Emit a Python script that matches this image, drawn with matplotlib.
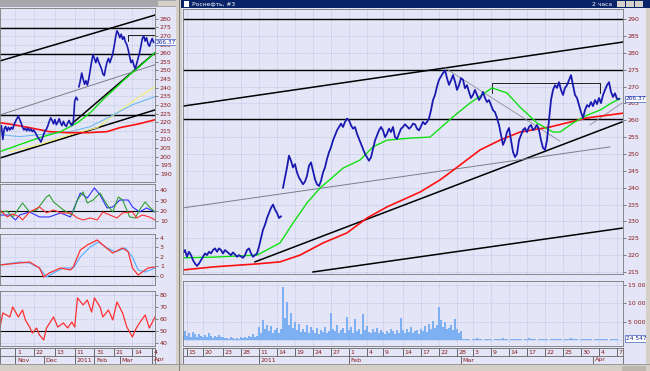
import numpy as np
import matplotlib.pyplot as plt
from matplotlib.patches import Rectangle

W, H = 650, 371
BG = '#e4e6f7'
GRID = '#a9b1dc'
TXT = '#8b1c1c'
FRAME = '#d4d0c8'

##==============================================================================
# data: right window (2h bars, index = bar number)

close = [220.5, 221.5, 219.5, 221.0, 220.0, 218.5, 217.5, 216.8, 217.5, 218.5,
         219.5, 220.5, 220.0, 221.0, 220.5, 221.5, 222.0, 221.0, 222.0, 221.5,
         220.5, 221.5, 221.0, 220.5, 220.0, 220.8, 220.2, 219.5, 220.0, 219.6,
         219.2, 220.0, 221.5, 222.0, 220.5, 219.5, 220.0, 220.5,
         222.5, 225.0, 227.5, 229.0, 231.0, 232.5, 234.0, 235.0, 233.5, 232.5, 231.0, 231.5,
         240.0, 243.0, 246.0, 249.5, 248.0, 246.0, 247.0, 244.5, 243.0, 242.0,
         241.0, 241.8, 243.5, 246.5, 247.5, 245.0, 242.5, 241.0, 240.5, 242.0,
         244.5, 246.0, 248.5, 250.5, 252.0, 254.0, 255.5, 257.0, 258.0, 259.0,
         258.0, 259.5, 260.5, 260.0, 258.5, 257.5, 258.0, 256.0, 254.5, 253.0,
         251.5, 250.0, 249.0, 248.0, 249.0, 251.5, 254.0, 255.5, 257.0, 258.0,
         257.0, 255.0, 256.0, 257.5, 256.5, 258.0, 255.0, 254.5, 256.0, 257.5,
         258.0, 258.8, 258.2, 257.5, 258.0, 259.0, 258.8, 257.5, 257.0, 258.2,
         259.5, 258.8, 259.5, 260.5, 263.0, 266.0, 267.5, 270.0, 272.0, 273.0,
         274.0, 274.8, 272.5, 270.5, 271.8, 273.4, 271.5, 269.0, 270.4, 272.5,
         272.0, 269.5, 270.4, 268.4, 266.6, 267.5, 269.0, 267.5, 266.0, 266.9,
         268.4, 266.6, 265.4, 266.0, 264.5, 263.0, 262.4, 260.7, 258.6, 255.6,
         252.7, 254.1, 256.5, 257.7, 254.1, 250.6, 249.1, 250.0, 254.1, 255.6,
         257.1, 257.7, 256.5, 258.0, 258.6, 257.1, 257.7, 258.6, 257.1, 254.1,
         251.8, 251.2, 254.1, 260.0, 266.0, 269.0, 270.4, 269.6, 271.3, 269.0,
         267.5, 269.6, 270.4, 271.9, 273.4, 270.4, 267.5, 266.6, 264.5, 262.4,
         260.7, 263.0, 264.5, 264.0, 265.4, 264.2, 266.0, 264.8, 266.6, 265.1,
         267.5, 269.0, 270.4, 271.3, 268.4, 266.9, 268.0, 266.3, 266.37]
gap_at = 50  # price gap after the new-year holidays

# volume, millions
volume = [1.2, 2.5, 1.0, 1.8, 0.8, 2.2, 1.5, 0.9, 1.6, 1.1, 0.7, 1.3, 0.9, 1.8, 1.2, 0.6,
          1.0, 0.8, 1.4, 0.7, 0.9, 0.5, 0.6, 0.4, 0.8, 0.5, 0.3, 0.6, 0.4, 0.7, 0.5, 0.9,
          0.6, 1.2, 0.8, 1.5, 0.9, 1.1,
          3.5, 2.0, 5.5, 3.0, 4.2, 2.5, 3.8, 1.8, 2.6, 3.2, 2.0, 3.0, 14.5, 6.0, 10.5, 4.0,
          7.5, 3.2, 5.0, 2.8, 4.5, 2.2,
          3.0, 2.2, 4.0, 1.8, 3.5, 2.6, 2.0, 3.2, 1.5, 2.8, 2.2, 3.6, 1.9, 2.5, 7.5, 3.0,
          2.4, 4.2, 1.8, 2.6, 3.4, 2.0, 6.2, 2.8, 3.5, 1.9, 5.6, 2.4, 3.0, 1.7, 7.0, 2.6,
          3.8, 2.2, 1.9, 2.9, 2.3, 3.3, 1.8, 2.7, 2.1, 1.6, 2.5, 1.9, 3.1, 2.4, 1.7, 2.8,
          2.0, 6.0, 2.6, 1.8, 2.9, 2.2, 3.6, 1.9, 2.4, 2.8, 1.7, 3.0,
          2.5, 3.8, 2.2, 4.5, 3.0, 5.2, 3.4, 4.0, 9.0, 5.5, 3.6, 4.8, 2.9, 3.3, 4.2, 2.6,
          5.8, 3.1, 2.0, 2.4,
          0.3, 0.2, 0.4, 0.2, 0.1, 0.3, 0.2, 0.5, 0.2, 0.3, 0.1, 0.2, 0.3, 0.2, 0.4, 0.1,
          0.2, 0.3, 0.2, 0.2, 0.6, 0.3, 0.2, 0.1, 0.3, 0.2, 0.4, 0.2, 0.3, 0.2, 0.1, 0.2,
          0.3, 0.5, 0.2, 0.2, 0.3, 0.1, 0.2, 0.4, 0.2, 0.3, 0.2, 0.1, 0.3, 0.2, 0.2, 0.4,
          0.3, 0.2, 0.1, 0.2, 0.3, 0.2, 0.5, 0.2, 0.3, 0.2, 0.1, 0.2, 0.3, 0.2, 0.4, 0.2,
          0.3, 0.1, 0.2, 0.3, 0.2, 0.4, 0.2, 0.3, 0.2, 0.1, 0.3, 0.2, 0.4, 0.3, 0.1]

ma_fast_x = [0, 15, 37, 48.5, 55, 62, 68.5, 75, 80, 88.5, 95, 102, 113.5, 123.5, 135,
             143.5, 154.5, 162, 168.5, 177, 185, 188.5, 195, 202, 208.5, 215, 218.5]
ma_fast = [219.2, 219.4, 220.0, 223.6, 229.5, 235.5, 239.9, 243.2, 245.8, 248.2, 252.1,
           254.1, 254.7, 255.0, 261.0, 265.1, 269.6, 268.1, 263.9, 259.2, 256.5, 256.5,
           259.2, 261.5, 263.0, 265.4, 266.3]
ma_slow_x = [0, 15, 37, 48.5, 58.5, 70, 82, 92, 102, 118.5, 128.5, 138.5, 148.5, 158.5,
             168.5, 183.5, 202, 220]
ma_slow = [215.6, 216.5, 217.4, 218.0, 220.0, 223.6, 226.6, 231.0, 234.3, 238.7, 242.3,
           246.7, 251.2, 254.1, 256.5, 258.0, 260.7, 262.1]

levels = [290.0, 274.9, 260.4]
# drawn trend lines: (x0, y0, x1, y1, colour, width)
trend_lines = [(0, 264.2, 220, 283.2, 'black', 1.1),
               (65, 215.0, 219.5, 228.0, 'black', 1.1),
               (36, 218.0, 219.5, 259.5, 'black', 1.1),
               (0, 234.0, 213.5, 252.1, '#7d7d8a', 0.7),
               (131, 275.5, 188.5, 253.8, '#8d8d95', 0.6),
               (203.5, 258.6, 219.5, 265.1, '#8d8d95', 0.6)]
range_box = (154.5, 208.5, 271.0, 268.0)

day_pos = [2, 10, 20, 29, 38, 47, 56, 65, 74, 83, 92, 100, 110, 119, 128, 137, 145,
           154, 163, 172, 181, 190, 199, 208, 217]
day_lab = ['15', '20', '23', '28', '11', '14', '19', '24', '27', '1', '4', '9', '14',
           '17', '22', '28', '3', '9', '14', '17', '22', '25', '30', '4', '7']
mon_pos = [38, 83, 139, 205]
mon_lab = ['2011', 'Feb', 'Mar', 'Apr']

##==============================================================================
# data: left window (daily bars)

l_close = [214, 218, 210, 216, 217.5, 215, 217, 215.5, 217, 216, 218.5, 220.5, 222,
           223.5, 221.5, 219.5, 217, 215.5, 216.5, 215, 216.5, 215, 216, 214.5, 215.5,
           214, 212.5, 211, 210, 208.5, 210.5, 213, 215, 216, 218, 220.5, 222.5, 221,
           219, 221.5, 218.5, 220, 222, 219.5, 218, 220.5, 218.5, 217.5, 219.5, 221,
           219, 218, 219.5, 232, 234.5, 233,
           240.5, 244, 248.5, 245, 242, 244, 241.5, 245, 250, 255, 259, 257, 254.5,
           257.5, 255, 253, 251, 248, 247, 251.5, 255, 257, 254.5, 257, 259.5, 264,
           269, 273, 271.5, 269, 271, 268, 269.5, 266.5, 265, 262, 258, 254.5, 256,
           253, 251, 254, 257, 260, 264, 268.5, 270, 267, 269, 265.5, 264, 266.5,
           268.5, 266.37]
l_gap_at = 56

l_green_x = [0, 14, 28, 43, 55, 64, 73, 83, 92, 99, 110]
l_green = [202.9, 207, 211, 214.5, 219.7, 225.4, 233, 240.6, 247.5, 252.2, 260.3]
l_red_x = [0, 9, 21, 35, 48, 62, 76, 85, 99, 110]
l_red = [219.7, 218.6, 216.8, 214.5, 213.9, 213.9, 214.5, 216.8, 219.1, 221.4]
l_blue_x = [0, 14, 28, 50, 64, 78, 94, 110]
l_blue = [212.8, 211.6, 212.8, 214.5, 217.4, 223.2, 230.1, 234.8]
l_yellow_x = [7, 28, 50, 69, 83, 99, 110]
l_yellow = [202.9, 207, 212.8, 216.8, 225.5, 234.8, 240.6]

l_levels = [274.5, 259.8, 224.2]
l_lines = [(0, 255.5, 110, 282.1, 'black', 1.1),
           (0, 199.2, 110, 227.1, 'black', 1.1),
           (51, 219.1, 110, 260.3, 'black', 1.1),
           (0, 224.2, 110, 253.3, '#7d7d8a', 0.7)]
l_box = (91, 110, 270.6, 267.0)

# directional movement (+DI blue, ADX green, -DI red)
dmi_b_x = [0, 7, 11, 14, 21, 28, 35, 43, 50, 52, 57, 62, 67, 71, 76, 80, 85, 91, 94, 99, 104, 110]
dmi_b = [16.1, 16.1, 11.3, 16.1, 19, 14.2, 14.2, 18.1, 14.2, 21, 37.4, 32.6, 42.3, 35.5,
         22.9, 23.9, 30.6, 30.6, 23.9, 19, 22.9, 19]
dmi_g_x = [0, 5, 9, 16, 21, 26, 33, 35, 38, 45, 51, 55, 59, 62, 66, 71, 76, 80, 84, 87,
           92, 96, 99, 103, 106, 110]
dmi_g = [18.1, 20, 14.2, 27.7, 19, 21, 33.6, 35.5, 28.7, 21, 16.1, 30.6, 38.4, 27.7,
         30.6, 37.4, 25.8, 19, 33.6, 30.6, 14.2, 13.2, 21, 28.7, 23.9, 19]
dmi_r_x = [0, 5, 9, 14, 16, 21, 28, 33, 38, 43, 50, 55, 59, 64, 69, 73, 78, 83, 87, 94,
           97, 101, 106, 110]
dmi_r = [21, 14.2, 17.1, 14.2, 11.3, 19, 23.9, 18.1, 21, 18.1, 18.1, 13.2, 11.3, 13.2,
         11.3, 19, 16.1, 13.2, 18.1, 19, 13.2, 16.1, 14.2, 11.3]

macd_x = [0, 14, 21, 28, 31, 35, 43, 50, 52, 57, 62, 69, 73, 80, 87, 91, 94, 98, 101, 105, 110]
macd = [1.16, 1.37, 1.47, 0.84, -0.1, 0.32, 0.84, 0.63, 0.95, 2.74, 3.26, 3.79, 3.26,
        2.42, 2.95, 2.53, 0.84, 0.1, 0.42, 0.84, 0.95]
signal_x = [0, 14, 21, 28, 33, 38, 45, 52, 57, 64, 70, 76, 82, 89, 94, 98, 103, 110]
signal = [1.16, 1.47, 1.37, 0.84, -0.1, 0.32, 0.84, 0.84, 2.0, 3.05, 3.58, 2.95, 2.53,
          2.95, 2.0, 0.63, 0.42, 0.84]

rsi_x = [0, 2, 7, 9, 13, 16, 18, 21, 23, 26, 28, 31, 33, 38, 41, 45, 48, 51, 53, 55, 59,
         62, 65, 67, 71, 73, 77, 80, 83, 87, 90, 94, 96, 99, 103, 106, 110]
rsi = [53.3, 65, 61.7, 70, 61.7, 67.5, 59.2, 53.3, 48.3, 52.5, 46.7, 42.5, 52.5, 61.7,
       53.3, 56.7, 52.5, 57.5, 53.3, 77.5, 71.7, 75.8, 65.8, 77.5, 70, 61.7, 67.5, 59.2,
       74.2, 65, 53.3, 45, 50.8, 56.7, 63.3, 52.5, 61.7]

l_day_pos = [11, 24, 39, 53, 67, 81, 94, 108]
l_day_lab = ['1', '22', '13', '11', '31', '21', '14', '4']
l_mon_pos = [11, 31, 53, 67, 85, 108]
l_mon_lab = ['Nov', 'Dec', '2011', 'Feb', 'Mar', 'Apr']

##==============================================================================
# helpers

fig = plt.figure(figsize=(6.5, 3.71), dpi=100, facecolor=BG)

def box(x0, y0, x1, y1):
    return [x0 / W, 1 - y1 / H, (x1 - x0) / W, (y1 - y0) / H]

def rect(x0, y0, x1, y1, color, z=5):
    fig.add_artist(Rectangle((x0 / W, 1 - y1 / H), (x1 - x0) / W, (y1 - y0) / H,
                             transform=fig.transFigure, facecolor=color,
                             edgecolor='none', zorder=z))

def panel(pos, xlim, ylim, yticks, ylabels, xticks):
    ax = fig.add_axes(box(*pos))
    ax.set_facecolor(BG)
    ax.set_xlim(*xlim)
    ax.set_ylim(*ylim)
    ax.yaxis.tick_right()
    ax.set_yticks(yticks)
    ax.set_yticklabels(ylabels)
    ax.set_xticks(xticks)
    ax.tick_params(axis='x', length=0, labelbottom=False)
    ax.tick_params(axis='y', length=2, width=0.5, color='#555555', labelsize=4.5,
                   labelcolor=TXT, pad=1.5)
    ax.grid(True, color=GRID, lw=0.5, ls=(0, (1, 1.5)))
    ax.set_axisbelow(True)
    for s in ax.spines.values():
        s.set_color('#7a7a7a')
        s.set_linewidth(0.6)
    return ax

def date_axis(pos, xlim, dpos, dlab, mpos, mlab):
    ax = fig.add_axes(box(*pos))
    ax.set_facecolor(BG)
    ax.set_xlim(*xlim)
    ax.set_ylim(0, 2)
    ax.set_xticks([])
    ax.set_yticks([])
    for s in ax.spines.values():
        s.set_color('#666666')
        s.set_linewidth(0.6)
    ax.axhline(1, color='#666666', lw=0.6)
    ax.vlines(dpos, 1, 2, color='#555555', lw=0.6)
    ax.vlines(mpos, 0, 1, color='#555555', lw=0.6)
    for p, l in zip(dpos, dlab):
        ax.annotate(l, (p, 1.5), xytext=(1.2, 0), textcoords='offset points',
                    fontsize=4.5, color=TXT, va='center', ha='left')
    for p, l in zip(mpos, mlab):
        ax.annotate(l, (p, 0.5), xytext=(1.2, 0), textcoords='offset points',
                    fontsize=4.5, color=TXT, va='center', ha='left')
    return ax

def value_box(ax, y, s):
    ax.text(1.006, y, s, transform=ax.get_yaxis_transform(), fontsize=4.2,
            color='#1a2aa0', va='center', ha='left', zorder=6,
            bbox=dict(boxstyle='square,pad=0.12', fc='white', ec='#4060c0', lw=0.5))

##==============================================================================
# right window: price

ax = panel((183, 9, 623, 274), (0, 220), (214.4, 293.0), np.arange(215, 291, 5),
           [str(v) for v in range(215, 291, 5)], day_pos)
for lv in levels:
    ax.axhline(lv, color='black', lw=1.0)
for x0, y0, x1, y1, c, lw in trend_lines:
    ax.plot([x0, x1], [y0, y1], color=c, lw=lw)
bx0, bx1, btop, bbot = range_box
ax.plot([bx0, bx0, bx1, bx1], [bbot, btop, btop, bbot], color='black', lw=0.6)
ax.plot(ma_slow_x, ma_slow, color='#ff1010', lw=1.2)
ax.plot(ma_fast_x, ma_fast, color='#10e010', lw=1.0)
t = np.arange(len(close))
ax.plot(t[:gap_at], close[:gap_at], color='#1a1ab0', lw=1.3)
ax.plot(t[gap_at:], close[gap_at:], color='#1a1ab0', lw=1.3)
value_box(ax, close[-1], '266.37')

# right window: volume
av = panel((183, 281, 623, 346), (0, 220), (-1.64, 16.1), [5, 10, 15],
           ['5 000 000', '10 000 000', '15 000 000'], day_pos)
av.bar(np.arange(len(volume)), volume, width=0.9, color='#7db0f2', lw=0)
av.axhline(0, color=GRID, lw=0.5, ls=(0, (1, 1.5)))
value_box(av, 0.4, '24 547')

date_axis((183, 348, 623, 364), (0, 220), day_pos, day_lab, mon_pos, mon_lab)

##==============================================================================
# left window

lp = panel((0, 8, 155, 182), (0, 110), (185.3, 286.2), np.arange(190, 281, 5),
           [str(v) for v in range(190, 281, 5)], l_day_pos)
for lv in l_levels:
    lp.axhline(lv, color='black', lw=1.0)
for x0, y0, x1, y1, c, lw in l_lines:
    lp.plot([x0, x1], [y0, y1], color=c, lw=lw)
bx0, bx1, btop, bbot = l_box
lp.plot([bx0, bx0, bx1, bx1], [bbot, btop, btop, bbot], color='black', lw=0.6)
lp.plot(l_yellow_x, l_yellow, color='#f0f070', lw=0.8)
lp.plot(l_blue_x, l_blue, color='#70b8f0', lw=0.8)
lp.plot(l_red_x, l_red, color='#ff1010', lw=1.2)
lp.plot(l_green_x, l_green, color='#10e010', lw=1.0)
lt = np.arange(len(l_close))
lp.plot(lt[:l_gap_at], l_close[:l_gap_at], color='#1a1ab0', lw=1.2)
lp.plot(lt[l_gap_at:], l_close[l_gap_at:], color='#1a1ab0', lw=1.2)
value_box(lp, l_close[-1], '266.37')

p1 = panel((0, 184, 155, 228), (0, 110), (3.5, 46.1), [10, 20, 30, 40],
           ['10', '20', '30', '40'], l_day_pos)
p1.axhline(20, color='black', lw=0.8)
p1.plot(dmi_b_x, dmi_b, color='#3030ff', lw=0.8)
p1.plot(dmi_g_x, dmi_g, color='#30a030', lw=0.8)
p1.plot(dmi_r_x, dmi_r, color='#ff3030', lw=0.8)

p2 = panel((0, 234, 155, 285), (0, 110), (-0.95, 4.42), [0, 1, 2, 3, 4],
           ['0', '1', '2', '3', '4'], l_day_pos)
p2.axhline(0, color='black', lw=0.8)
p2.plot(signal_x, signal, color='#60b0ff', lw=0.9)
p2.plot(macd_x, macd, color='#ff3030', lw=0.9)

p3 = panel((0, 291, 155, 346), (0, 110), (37.5, 83.3), [40, 50, 60, 70, 80],
           ['40', '50', '60', '70', '80'], l_day_pos)
p3.axhline(50, color='black', lw=0.8)
p3.plot(rsi_x, rsi, color='#ff3030', lw=0.9)

date_axis((0, 348, 155, 364), (0, 110), l_day_pos, l_day_lab, l_mon_pos, l_mon_lab)

##==============================================================================
# window chrome

rect(0, 0, 178, 7, '#a8a8ac')
for bx in (158, 164, 170):
    rect(bx, 1, bx + 5.5, 6, FRAME, z=6)
rect(176, 0, 182, 371, FRAME)
rect(179, 0, 180, 371, '#808080', z=6)
rect(181, 0, 650, 8, '#0a246a')
rect(183.5, 1.5, 189, 6.5, 'white', z=6)
fig.text(192 / W, 1 - 4.2 / H, 'Роснефть, #3', color='white', fontsize=4.3,
         va='center', ha='left', zorder=7)
fig.text(612 / W, 1 - 4.2 / H, '2 часа', color='white', fontsize=4.3,
         va='center', ha='right', zorder=7)
for bx in (617, 626, 635):
    rect(bx, 1, bx + 7.5, 7, FRAME, z=6)
rect(646, 8, 650, 364, FRAME)
rect(0, 364, 650, 371, FRAME)
rect(0, 364, 650, 365, '#9a9a9a', z=6)
rect(622, 366, 646, 371, '#bcb8b0', z=6)

plt.savefig('out.png', dpi=100, facecolor=BG)
